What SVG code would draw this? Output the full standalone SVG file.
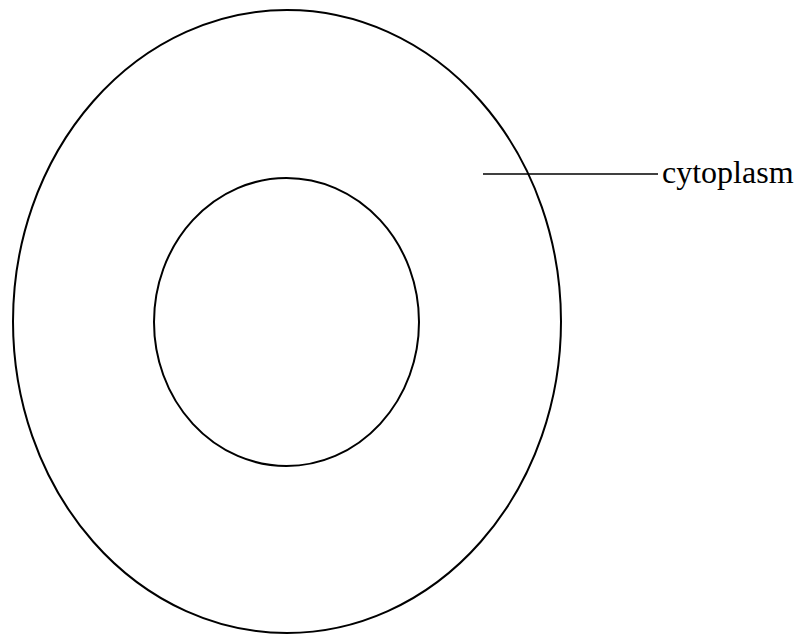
<svg xmlns="http://www.w3.org/2000/svg" width="803" height="635" viewBox="0 0 803 635">
<style>
.sh{fill:none;stroke:#000;stroke-width:2}
.ln{stroke:#000;stroke-width:1.5}
.lb{font-family:"Liberation Serif","Times New Roman",serif;font-size:32px;fill:#000}
</style>
<rect width="803" height="635" fill="#fff"/>
<g id="outer-cell"><ellipse class="sh" cx="287" cy="321.5" rx="274" ry="311.5"/></g>
<g id="nucleus"><ellipse class="sh" cx="286.5" cy="322" rx="132.5" ry="144"/></g>
<g id="connectors"><line class="ln" x1="483" y1="174" x2="658" y2="174"/></g>
<g id="label"><text class="lb" x="662" y="183">cytoplasm</text></g>
</svg>
